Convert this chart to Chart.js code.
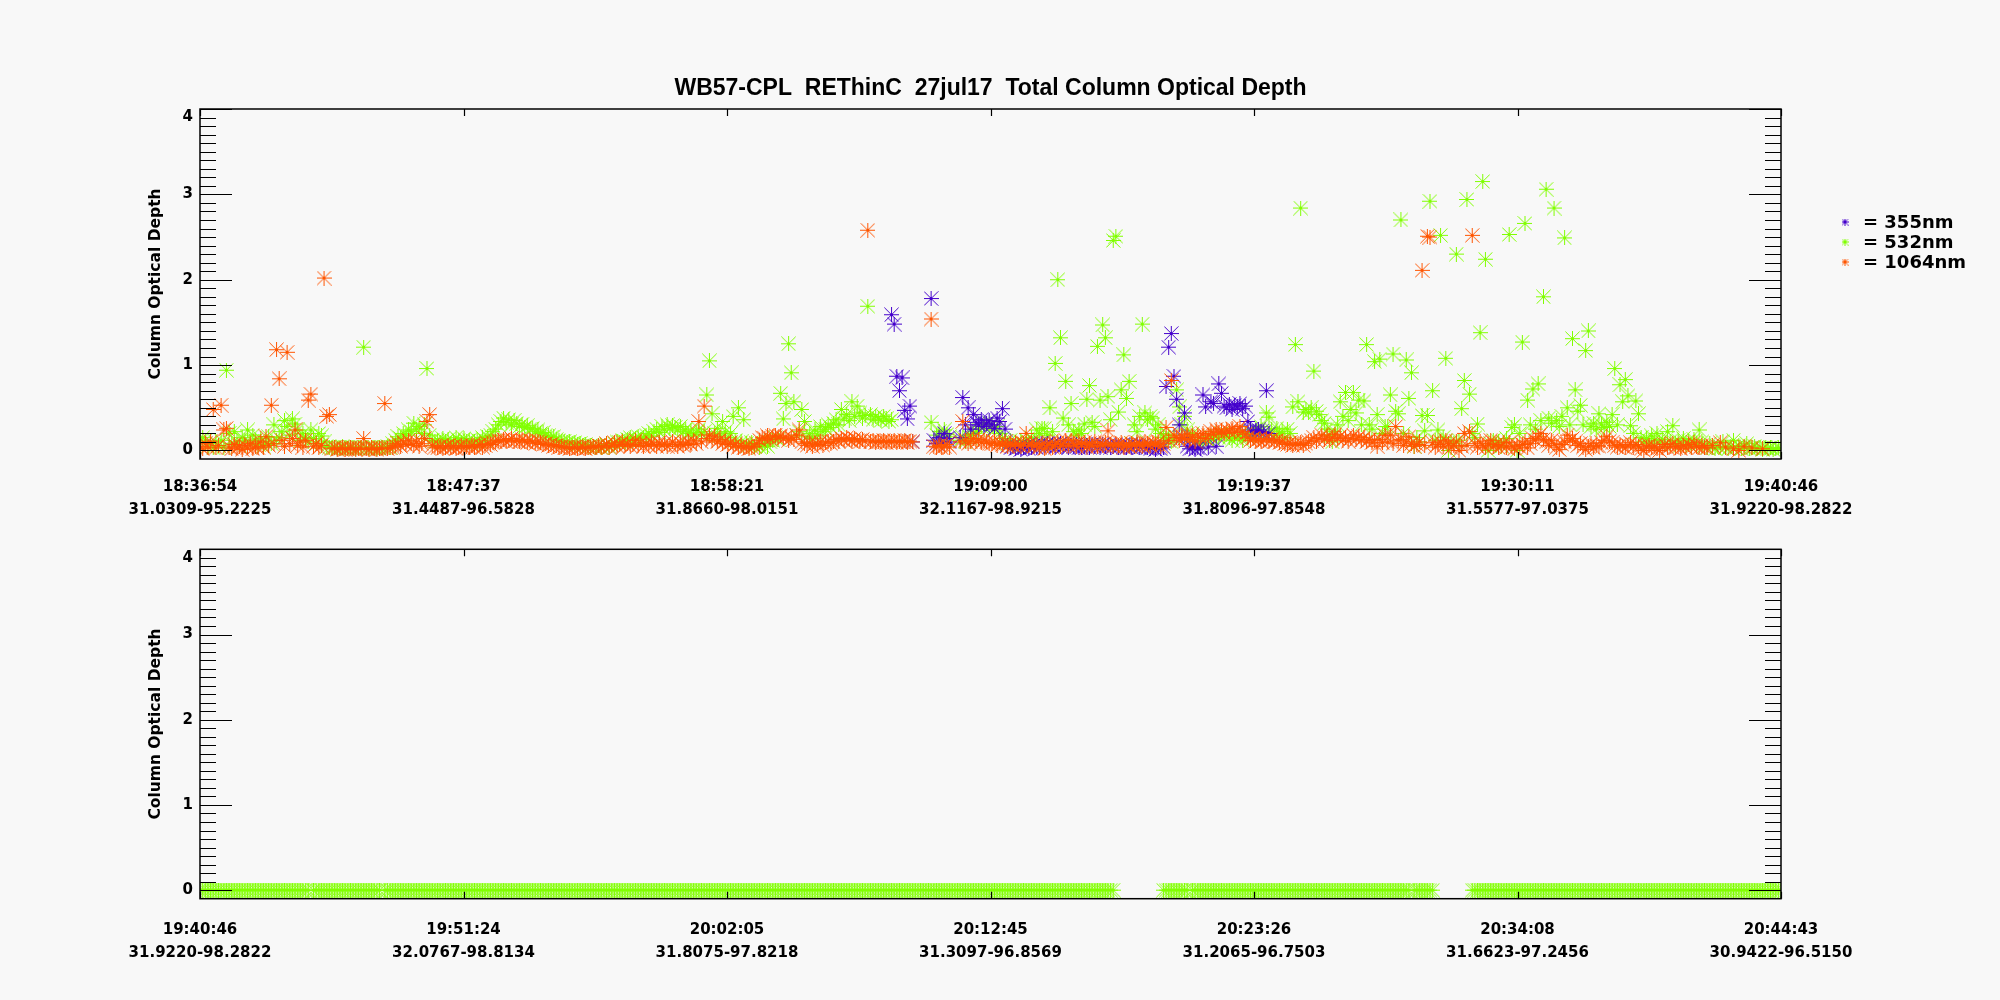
<!DOCTYPE html>
<html>
<head>
<meta charset="utf-8">
<script src="https://cdn.jsdelivr.net/npm/chart.js@4.4.0/dist/chart.umd.min.js"></script>
<style>
html,body{margin:0;padding:0;background:#f8f8f8;}
#wrap{position:relative;width:2000px;height:1000px;overflow:hidden;}
canvas{position:absolute;left:0;}
#c1{top:0;}
#c2{top:520px;}
</style>
</head>
<body>
<div id="wrap"><canvas id="c1" width="2000" height="540"></canvas><canvas id="c2" width="2000" height="480"></canvas></div>
<script>
// ---------------- DATA ----------------
const chartTitle = 'WB57-CPL  REThinC  27jul17  Total Column Optical Depth';
const yAxisTitle = 'Column Optical Depth';
const seriesNames = ['355nm', '532nm', '1064nm'];
const seriesColors = ['#4400cc', '#80ff00', '#ff5500'];
const yTickValues = [0, 1, 2, 3, 4];

const topTimes  = ['18:36:54','18:47:37','18:58:21','19:09:00','19:19:37','19:30:11','19:40:46'];
const topPlaces = ['31.0309-95.2225','31.4487-96.5828','31.8660-98.0151','32.1167-98.9215','31.8096-97.8548','31.5577-97.0375','31.9220-98.2822'];
const botTimes  = ['19:40:46','19:51:24','20:02:05','20:12:45','20:23:26','20:34:08','20:44:43'];
const botPlaces = ['31.9220-98.2822','32.0767-98.8134','31.8075-97.8218','31.3097-96.8569','31.2065-96.7503','31.6623-97.2456','30.9422-96.5150'];

const recordsPerPanel = 600;

// top panel, 532 nm (record 0..599)
const top532 = [
0.10,0.15,0.12,0.05,0.08,0.03,0.10,0.06,0.12,0.04, 0.94,0.20,0.08,0.22,0.10,0.06,0.15,0.12,0.24,0.09, 0.18,0.12,0.07,0.14,0.05,0.10,0.16,0.08,0.30,0.12,
0.15,0.22,0.35,0.28,0.18,0.37,0.31,0.24,0.12,0.20, 0.15,0.10,0.24,0.14,0.08,0.20,0.17,0.10,0.05,0.04, 0.03,0.04,0.02,0.03,0.05,0.03,0.02,0.04,0.03,0.02,
0.03,0.04,1.21,0.03,0.02,0.04,0.03,0.02,0.03,0.04, 0.03,0.05,0.04,0.08,0.12,0.16,0.14,0.20,0.18,0.24, 0.22,0.32,0.25,0.28,0.20,0.30,0.96,0.18,0.12,0.10,
0.12,0.09,0.14,0.10,0.13,0.08,0.11,0.15,0.12,0.09, 0.14,0.10,0.12,0.08,0.11,0.13,0.10,0.15,0.12,0.16, 0.18,0.22,0.25,0.30,0.34,0.38,0.33,0.36,0.30,0.35,
0.32,0.28,0.31,0.27,0.29,0.25,0.26,0.22,0.24,0.20, 0.21,0.18,0.17,0.15,0.16,0.13,0.12,0.10,0.11,0.09, 0.10,0.08,0.09,0.07,0.08,0.06,0.07,0.05,0.06,0.05,
0.04,0.06,0.03,0.05,0.07,0.04,0.06,0.08,0.10,0.09, 0.12,0.10,0.13,0.15,0.12,0.14,0.16,0.13,0.15,0.18, 0.20,0.17,0.22,0.25,0.21,0.28,0.24,0.30,0.26,0.29,
0.27,0.24,0.28,0.22,0.25,0.20,0.23,0.18,0.21,0.25, 0.19,0.22,0.65,1.05,0.43,0.20,0.26,0.18,0.34,0.22, 0.15,0.20,0.40,0.12,0.50,0.10,0.36,0.08,0.06,0.09,
0.05,0.07,0.04,0.06,0.08,0.05,0.10,0.12,0.15,0.13, 0.67,0.37,0.55,1.25,0.91,0.57,0.18,0.22,0.48,0.34, 0.16,0.20,0.14,0.24,0.18,0.28,0.22,0.25,0.30,0.27,
0.32,0.36,0.30,0.48,0.38,0.42,0.35,0.57,0.40,0.52, 0.44,0.38,0.41,1.69,0.42,0.36,0.40,0.38,0.35,0.40, 0.37,0.34,0.36,null,null,null,null,null,null,null,
null,null,null,null,null,null,null,0.33,null,0.18, 0.22,0.15,0.24,0.19,0.16,null,null,null,0.12,0.15, 0.10,0.18,0.14,0.20,0.22,0.25,0.28,0.32,0.30,0.26,
0.30,0.24,0.28,0.20,0.14,0.10,0.08,0.12,0.06,0.09, 0.05,0.10,0.07,0.12,0.09,0.15,0.11,0.24,0.20,0.26, 0.26,0.18,0.50,0.22,1.02,2.00,1.32,0.38,0.81,0.30,
0.55,0.22,0.18,0.24,0.20,0.31,0.60,0.76,0.33,0.28, 1.22,0.59,1.47,1.32,0.63,0.36,2.46,2.51,0.45,0.71, 1.12,0.61,0.81,0.08,0.30,0.22,0.40,1.48,0.44,0.36,
0.40,0.38,0.25,0.30,0.20,0.15,0.12,0.18,0.10,0.14, 0.71,0.51,0.30,0.40,0.24,0.15,0.20,0.10,0.12,0.08, 0.10,0.14,0.12,0.16,0.13,0.18,0.15,0.20,0.17,0.19,
0.15,0.12,0.16,0.14,0.18,0.12,0.20,0.16,0.22,0.18, 0.25,0.20,0.28,0.22,0.44,0.39,0.24,0.18,0.26,0.20, 0.22,0.15,0.25,0.20,0.51,1.24,0.57,2.84,0.45,0.48,
0.44,0.50,0.93,0.46,0.42,0.35,0.32,0.25,0.18,0.10, 0.22,0.30,0.57,0.40,0.68,0.35,0.48,0.68,0.44,0.59, 0.30,0.58,1.24,0.30,0.25,1.04,0.42,1.07,0.20,0.28,
0.28,0.65,1.13,0.46,0.43,2.70,0.20,1.06,0.61,0.91, 0.05,0.15,0.10,0.41,0.23,0.41,2.92,0.70,0.12,0.24, 2.52,0.15,1.08,0.00,0.10,0.08,2.30,0.12,0.49,0.82,
2.94,0.66,0.20,0.15,0.31,1.38,3.15,2.24,0.00,0.08, 0.12,0.06,0.10,0.05,0.09,0.14,2.53,0.27,0.30,0.00, 0.20,1.27,2.66,0.59,0.30,0.72,0.25,0.78,0.35,1.80,
3.06,0.38,0.32,2.84,0.35,0.28,0.40,2.49,0.50,0.30, 1.31,0.71,0.46,0.53,0.30,1.17,1.40,0.28,0.32,0.25, 0.43,0.30,0.27,0.33,0.28,0.42,0.96,0.30,0.77,0.57,
0.83,0.64,0.29,0.20,0.58,0.43,0.15,0.10,0.14,0.08, 0.17,0.12,0.20,0.09,0.13,0.07,0.22,0.11,0.29,0.08, 0.12,0.06,0.14,0.09,0.11,0.05,0.13,0.08,0.24,0.10,
0.06,0.03,0.08,0.04,0.02,0.05,0.03,0.10,0.04,0.02, 0.05,0.12,0.03,0.06,0.02,0.04,0.08,0.02,0.03,0.05, 0.02,0.03,0.01,0.04,0.02,0.03,0.01,0.02,0.03,0.02
];

// top panel, 1064 nm (record 0..599)
const top1064 = [
0.05,0.02,0.08,0.04,0.10,0.48,0.03,0.06,0.53,0.24, 0.26,0.04,0.02,0.07,0.03,0.05,0.01,0.06,0.03,0.08, 0.02,0.05,0.03,0.10,0.04,0.16,0.06,0.53,0.08,1.18,
0.84,0.12,0.05,1.15,0.08,0.14,0.24,0.06,0.10,0.04, 0.12,0.59,0.66,0.05,0.08,0.03,0.06,2.02,0.40,0.42, 0.02,0.03,0.01,0.02,0.03,0.01,0.02,0.03,0.02,0.01,
0.02,0.03,0.14,0.02,0.01,0.03,0.02,0.01,0.02,0.03, 0.55,0.02,0.03,0.04,0.06,0.08,0.05,0.10,0.07,0.12, 0.08,0.06,0.10,0.05,0.08,0.14,0.34,0.42,0.06,0.04,
0.03,0.05,0.02,0.04,0.06,0.03,0.05,0.02,0.04,0.06, 0.03,0.05,0.04,0.06,0.03,0.05,0.07,0.04,0.06,0.08, 0.07,0.09,0.10,0.12,0.11,0.13,0.10,0.12,0.14,0.11,
0.12,0.10,0.13,0.11,0.09,0.12,0.10,0.08,0.11,0.09, 0.07,0.08,0.06,0.07,0.05,0.06,0.04,0.05,0.03,0.04, 0.02,0.03,0.04,0.02,0.03,0.05,0.02,0.04,0.03,0.05,
0.04,0.06,0.03,0.05,0.08,0.04,0.06,0.09,0.05,0.07, 0.10,0.06,0.08,0.05,0.07,0.12,0.06,0.09,0.05,0.08, 0.06,0.10,0.07,0.05,0.09,0.06,0.08,0.05,0.07,0.10,
0.07,0.05,0.09,0.06,0.08,0.10,0.07,0.12,0.08,0.34, 0.10,0.52,0.14,0.18,0.12,0.16,0.10,0.13,0.08,0.11, 0.07,0.09,0.05,0.08,0.04,0.06,0.03,0.05,0.02,0.04,
0.05,0.08,0.12,0.15,0.14,0.17,0.13,0.16,0.18,0.15, 0.17,0.14,0.16,0.12,0.15,0.13,0.18,0.24,0.10,0.08, 0.06,0.09,0.05,0.08,0.07,0.10,0.06,0.09,0.11,0.08,
0.10,0.13,0.11,0.14,0.12,0.15,0.13,0.11,0.14,0.12, 0.10,0.13,0.11,2.58,0.10,0.12,0.09,0.11,0.10,0.12, 0.09,0.11,0.10,0.12,0.09,0.11,0.10,0.12,0.09,0.11,
0.10,null,null,null,null,null,null,1.54,0.05,0.04, 0.06,0.03,0.05,0.07,0.04,null,null,null,0.10,0.34, 0.12,0.08,0.11,0.14,0.10,0.13,0.09,0.12,0.10,0.08,
0.08,0.10,0.06,0.09,0.07,0.10,0.05,0.08,0.06,0.09, 0.07,0.05,0.08,0.20,0.06,0.09,0.05,0.07,0.04,0.08, 0.02,0.06,0.09,0.04,0.07,0.10,0.05,0.08,0.12,0.06,
0.12,0.08,0.05,0.10,0.07,0.09,0.04,0.08,0.06,0.10, 0.05,0.08,0.06,0.09,0.23,0.07,0.05,0.08,0.06,0.09, 0.04,0.07,0.05,0.08,0.06,0.09,0.07,0.05,0.10,0.08,
0.06,0.09,0.07,0.10,0.05,0.08,0.27,0.12,0.82,0.18, 0.15,0.12,0.17,0.14,0.19,0.13,0.16,0.11,0.18,0.15, 0.20,0.14,0.18,0.22,0.19,0.25,0.21,0.23,0.20,0.24,
0.22,0.26,0.21,0.24,0.28,0.22,0.19,0.15,0.12,0.14, 0.11,0.13,0.10,0.12,0.14,0.11,0.13,0.10,0.12,0.09, 0.11,0.08,0.07,0.09,0.06,0.08,0.07,0.09,0.06,0.08,
0.10,0.12,0.15,0.11,0.14,0.18,0.13,0.16,0.12,0.15, 0.19,0.14,0.17,0.12,0.15,0.11,0.14,0.18,0.13,0.16, 0.12,0.15,0.10,0.13,0.09,0.12,0.05,0.13,0.09,0.18,
0.10,0.18,0.08,0.28,0.12,0.13,0.06,0.10,0.16,0.08, 0.05,0.07,0.10,2.11,0.06,2.51,2.50,0.09,0.04,0.07, 0.10,0.05,0.12,0.08,0.03,0.06,0.10,0.00,0.05,0.20,
0.06,0.22,2.52,0.08,0.04,0.10,0.06,0.03,0.08,0.12, 0.05,0.07,0.03,0.06,0.09,0.04,0.09,0.05,0.02,0.06, 0.04,0.07,0.10,0.03,0.08,0.14,0.12,0.16,0.20,0.13,
0.10,0.06,0.12,0.08,0.04,0.01,0.07,0.10,0.18,0.12, 0.14,0.10,0.06,0.08,0.04,0.01,0.05,0.08,0.03,0.06, 0.05,0.09,0.12,0.16,0.11,0.09,0.06,0.04,0.07,0.05,
0.03,0.06,0.09,0.04,0.07,0.05,0.02,0.00,0.04,0.06, 0.03,0.05,0.02,0.00,0.04,0.07,0.03,0.05,0.08,0.04, 0.05,0.02,0.06,0.03,0.07,0.04,0.09,0.05,0.03,0.06,
0.04,0.03,null,0.06,null,null,0.09,null,0.04,null, null,0.02,null,0.00,null,0.05,null,null,0.03,null, null,null,0.02,null,null,null,null,null,null,null
];

// top panel, 355 nm: only recorded from record 262 to 405
const top355Start = 262;
const top355 = [
1.59,1.48,0.87,0.70,0.85,0.47,0.37,0.52,
0.10,null,null,null,null,null,null,1.78,0.12,0.08,
0.15,0.10,0.20,0.14,0.10,null,null,null,0.15,0.62,
0.30,0.50,0.25,0.42,0.33,0.30,0.36,0.28,0.32,0.35,
0.30,0.26,0.38,0.34,0.49,0.25,0.06,0.03,0.05,0.02,
0.04,0.01,0.03,0.05,0.02,0.04,0.06,0.03,0.05,0.08,
0.06,0.08,0.05,0.07,0.04,0.06,0.08,0.05,0.07,0.04,
0.06,0.05,0.07,0.03,0.03,0.05,0.06,0.04,0.07,0.05,
0.06,0.04,0.07,0.05,0.06,0.04,0.05,0.07,0.04,0.06,
0.05,0.03,0.06,0.04,0.05,0.07,0.04,0.06,0.05,0.03,
0.02,0.04,0.01,0.03,0.02,0.04,0.75,1.21,1.37,0.87,
0.60,0.30,0.15,0.44,0.05,0.02,0.04,0.01,0.03,0.02,
0.65,0.51,0.04,0.57,0.55,0.05,0.78,0.67,0.52,0.50,
0.54,0.48,0.53,0.51,0.55,0.49,0.52,0.34,0.24,0.22,
0.23,0.24,0.22,0.21,0.70,0.20
];

// bottom panel, 532 nm (record 0..599); the other wavelengths have no values here
const bot532 = [
0,0,0,0,0,0,0,0,0,0, 0,0,0,0,0,0,0,0,0,0, 0,0,0,0,0,0,0,0,0,0,
0,0,0,0,0,0,0,0,0,0, 0,0,null,0,0,0,0,0,0,0, 0,0,0,0,0,0,0,0,0,0,
0,0,0,0,0,0,0,0,0,null, 0,0,0,0,0,0,0,0,0,0, 0,0,0,0,0,0,0,0,0,0,
0,0,0,0,0,0,0,0,0,0, 0,0,0,0,0,0,0,0,0,0, 0,0,0,0,0,0,0,0,0,0,
0,0,0,0,0,0,0,0,0,0, 0,0,0,0,0,0,0,0,0,0, 0,0,0,0,0,0,0,0,0,0,
0,0,0,0,0,0,0,0,0,0, 0,0,0,0,0,0,0,0,0,0, 0,0,0,0,0,0,0,0,0,0,
0,0,0,0,0,0,0,0,0,0, 0,0,0,0,0,0,0,0,0,0, 0,0,0,0,0,0,0,0,0,0,
0,0,0,0,0,0,0,0,0,0, 0,0,0,0,0,0,0,0,0,0, 0,0,0,0,0,0,0,0,0,0,
0,0,0,0,0,0,0,0,0,0, 0,0,0,0,0,0,0,0,0,0, 0,0,0,0,0,0,0,0,0,0,
0,0,0,0,0,0,0,0,0,0, 0,0,0,0,0,0,0,0,0,0, 0,0,0,0,0,0,0,0,0,0,
0,0,0,0,0,0,0,0,0,0, 0,0,0,0,0,0,0,0,0,0, 0,0,0,0,0,0,0,0,0,0,
0,0,0,0,0,0,0,0,0,0, 0,0,0,0,0,0,0,null,null,null, null,null,null,null,null,null,null,null,null,null,
null,null,null,null,null,0,0,0,0,0, 0,0,0,0,0,null,0,0,0,0, 0,0,0,0,0,0,0,0,0,0,
0,0,0,0,0,0,0,0,0,0, 0,0,0,0,0,0,0,0,0,0, 0,0,0,0,0,0,0,0,0,0,
0,0,0,0,0,0,0,0,0,0, 0,0,0,0,0,0,0,0,0,0, 0,0,0,0,0,0,0,0,0,0,
0,0,0,0,0,0,0,0,0,null, 0,0,0,0,0,0,0,0,null,null, null,null,null,null,null,null,null,null,null,null,
null,null,0,0,0,0,0,0,0,0, 0,0,0,0,0,0,0,0,0,0, 0,0,0,0,0,0,0,0,0,0,
0,0,0,0,0,0,0,0,0,0, 0,0,0,0,0,0,0,0,0,0, 0,0,0,0,0,0,0,0,0,0,
0,0,0,0,0,0,0,0,0,0, 0,0,0,0,0,0,0,0,0,0, 0,0,0,0,0,0,0,0,0,0,
0,0,0,0,0,0,0,0,0,0, 0,0,0,0,0,0,0,0,0,0, 0,0,0,0,0,0,0,0,0,0
];

// ---------------- RENDERING ----------------
Chart.defaults.font.family = '"DejaVu Sans"';
Chart.defaults.color = '#000';

const Y_MIN = -0.1, Y_MAX = 4.0;

function makeAsterisk(color, r) {
  const s = 2 * r + 1;
  const c = document.createElement('canvas');
  c.width = s; c.height = s;
  const g = c.getContext('2d');
  g.strokeStyle = color; g.lineWidth = 1;
  g.beginPath();
  g.moveTo(r + 0.5, 0); g.lineTo(r + 0.5, s);
  g.moveTo(0, r + 0.5); g.lineTo(s, r + 0.5);
  g.moveTo(0.5, 0.5); g.lineTo(s - 0.5, s - 0.5);
  g.moveTo(s - 0.5, 0.5); g.lineTo(0.5, s - 0.5);
  g.stroke();
  return c;
}
const plotStars = seriesColors.map(c => makeAsterisk(c, 7));
const legendStars = seriesColors.map(c => makeAsterisk(c, 3));

function toPoints(values, start) {
  return values.map((v, i) => ({x: start + i, y: v}));
}

const idlAxes = {
  id: 'idlAxes',
  afterDatasetsDraw(chart) {
    const {ctx, chartArea: a, scales: {x, y}} = chart;
    ctx.save();
    ctx.strokeStyle = '#000';
    ctx.lineWidth = 1.2;
    ctx.beginPath();
    for (let k = 0; k <= 40; k++) {
      const py = Math.round(y.getPixelForValue(k / 10)) + 0.5;
      const len = (k % 10 === 0) ? 32 : 16;
      ctx.moveTo(a.left, py); ctx.lineTo(a.left + len, py);
      ctx.moveTo(a.right, py); ctx.lineTo(a.right - len, py);
    }
    x.ticks.forEach(t => {
      const px = Math.round(x.getPixelForValue(t.value)) + 0.5;
      ctx.moveTo(px, a.top); ctx.lineTo(px, a.top + 7);
      ctx.moveTo(px, a.bottom); ctx.lineTo(px, a.bottom - 7);
    });
    ctx.stroke();
    ctx.lineWidth = 1.5;
    ctx.strokeRect(a.left, a.top, a.right - a.left, a.bottom - a.top);
    ctx.restore();
  }
};

const titleLegend = {
  id: 'titleLegend',
  afterDraw(chart) {
    const {ctx, chartArea: a} = chart;
    ctx.save();
    ctx.fillStyle = '#000';
    ctx.font = 'bold 23px "Liberation Sans"';
    ctx.textAlign = 'center';
    ctx.textBaseline = 'alphabetic';
    ctx.fillText(chartTitle, (a.left + a.right) / 2, 95);
    ctx.font = 'bold 18px "DejaVu Sans"';
    ctx.textAlign = 'left';
    ctx.textBaseline = 'middle';
    seriesNames.forEach((n, i) => {
      const yy = 222 + i * 20;
      ctx.drawImage(legendStars[i], 1845 - 3.5, yy - 3.5);
      ctx.fillText('= ' + n, 1863, yy + 1);
    });
    ctx.restore();
  }
};

function makeOptions(times, places, padTop, xAxisHeight, labelPad) {
  return {
    responsive: false,
    animation: false,
    events: [],
    layout: {padding: {left: 140, right: 219, top: padTop, bottom: 0}},
    plugins: {legend: {display: false}, tooltip: {enabled: false}, title: {display: false}},
    scales: {
      x: {
        type: 'linear', min: 0, max: recordsPerPanel - 1,
        grid: {display: false, drawTicks: false},
        border: {display: false},
        afterBuildTicks(s) {
          s.ticks = times.map((t, k) => ({value: k * (recordsPerPanel - 1) / (times.length - 1)}));
        },
        ticks: {
          autoSkip: false, maxRotation: 0, minRotation: 0, padding: labelPad, color: '#000',
          font: {family: '"DejaVu Sans"', size: 15, weight: 'bold', lineHeight: 23 / 15},
          callback: (v, i) => [times[i], places[i]]
        },
        afterFit(s) { s.height = xAxisHeight; }
      },
      y: {
        type: 'linear', min: Y_MIN, max: Y_MAX,
        grid: {display: false, drawTicks: false},
        border: {display: false},
        // labels at each integer; the top one is kept just inside the frame like the original
        afterBuildTicks(s) { s.ticks = yTickValues.map(v => ({value: Math.min(v, Y_MAX - 0.1)})); },
        ticks: {
          padding: 7, color: '#000',
          font: {family: '"DejaVu Sans"', size: 15, weight: 'bold'},
          callback: (v, i) => String(yTickValues[i])
        },
        title: {
          display: true, text: yAxisTitle, color: '#000',
          font: {family: '"DejaVu Sans"', size: 15.5, weight: 'bold'},
          padding: {top: 7, bottom: 0}
        },
        afterFit(s) { s.width = 60; }
      }
    }
  };
}

function ds(label, data, idx, order) {
  return {
    label: label, data: data,
    pointStyle: plotStars[idx], pointRadius: 7, pointHoverRadius: 7,
    borderColor: seriesColors[idx], backgroundColor: seriesColors[idx],
    showLine: false, order: order
  };
}

// top panel: canvas 0..540 px, plot frame 109..459
new Chart(document.getElementById('c1'), {
  type: 'scatter',
  data: {
    datasets: [
      ds(seriesNames[0], toPoints(top355, top355Start), 0, 1),
      ds(seriesNames[1], toPoints(top532, 0), 1, 2),
      ds(seriesNames[2], toPoints(top1064, 0), 2, 0)
    ]
  },
  options: makeOptions(topTimes, topPlaces, 109, 81, 17),
  plugins: [idlAxes, titleLegend]
});

// bottom panel: canvas 520..1000 px, plot frame 549.3..898.7
new Chart(document.getElementById('c2'), {
  type: 'scatter',
  data: {
    datasets: [
      ds(seriesNames[1], toPoints(bot532, 0), 1, 2)
    ]
  },
  options: makeOptions(botTimes, botPlaces, 29.3, 101.3, 20),
  plugins: [idlAxes]
});
</script>
</body>
</html>
